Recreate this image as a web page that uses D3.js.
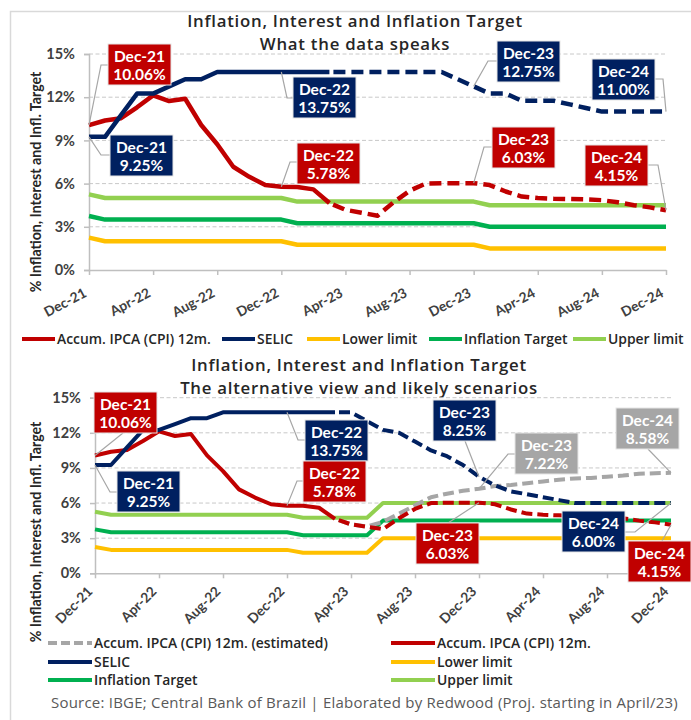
<!DOCTYPE html>
<html>
<head>
<meta charset="utf-8">
<script src="https://cdn.jsdelivr.net/npm/d3@7"></script>
<style>
  html, body { margin: 0; padding: 0; background: #ffffff; }
  svg { display: block; font-family: Lato, "Open Sans", sans-serif; }
</style>
</head>
<body>
<svg id="chart" width="691" height="720"></svg>
<script>
// ---- Data -----------------------------------------------------------------
const months = [
  "Dec-21",
  "Jan-22","Feb-22","Mar-22","Apr-22","May-22","Jun-22","Jul-22","Aug-22","Sep-22","Oct-22","Nov-22","Dec-22",
  "Jan-23","Feb-23","Mar-23","Apr-23","May-23","Jun-23","Jul-23","Aug-23","Sep-23","Oct-23","Nov-23","Dec-23",
  "Jan-24","Feb-24","Mar-24","Apr-24","May-24","Jun-24","Jul-24","Aug-24","Sep-24","Oct-24","Nov-24","Dec-24"
];
const tickLabels = ["Dec-21","Apr-22","Aug-22","Dec-22","Apr-23","Aug-23","Dec-23","Apr-24","Aug-24","Dec-24"];
const yTicks = [0, 3, 6, 9, 12, 15];

// Realised figures, Dec-21 to Mar-23
const ipcaActual  = [10.06, 10.38, 10.54, 11.30, 12.13, 11.73, 11.89, 10.07, 8.73, 7.17, 6.47, 5.90, 5.78, 5.77, 5.60, 4.65];
const selicActual = [9.25, 9.25, 10.75, 12.25, 12.25, 12.75, 13.25, 13.25, 13.75, 13.75, 13.75, 13.75, 13.75, 13.75, 13.75, 13.75];

// Projections, Mar-23 to Dec-24
const projStart = "Mar-23";
const ipcaProjected      = [4.65, 4.18, 3.98, 3.77, 4.70, 5.50, 6.00, 6.03, 6.03, 6.03, 5.90, 5.45, 5.10, 5.00, 4.95, 4.93, 4.90, 4.85, 4.70, 4.50, 4.35, 4.15];
const selicProjectedBase = [13.75, 13.75, 13.75, 13.75, 13.75, 13.75, 13.75, 13.75, 13.25, 12.75, 12.25, 12.25, 11.75, 11.75, 11.75, 11.50, 11.25, 11.00, 11.00, 11.00, 11.00, 11.00];
const selicProjectedAlt  = [13.75, 13.75, 13.00, 12.25, 12.00, 11.25, 10.50, 10.00, 9.25, 8.25, 7.50, 7.00, 6.75, 6.50, 6.25, 6.00, 6.00, 6.00, 6.00, 6.00, 6.00, 6.00];
const ipcaEstimatedAlt   = [4.65, 4.18, 4.00, 4.40, 5.10, 5.80, 6.50, 6.80, 7.05, 7.22, 7.45, 7.55, 7.70, 7.85, 8.00, 8.10, 8.15, 8.25, 8.35, 8.50, 8.55, 8.58];

// Inflation target band, Dec-21 to Dec-24 (current regime)
const lowerLimit = [2.25,
  2.00, 2.00, 2.00, 2.00, 2.00, 2.00, 2.00, 2.00, 2.00, 2.00, 2.00, 2.00,
  1.75, 1.75, 1.75, 1.75, 1.75, 1.75, 1.75, 1.75, 1.75, 1.75, 1.75, 1.75,
  1.50, 1.50, 1.50, 1.50, 1.50, 1.50, 1.50, 1.50, 1.50, 1.50, 1.50, 1.50];
const inflationTarget = [3.75,
  3.50, 3.50, 3.50, 3.50, 3.50, 3.50, 3.50, 3.50, 3.50, 3.50, 3.50, 3.50,
  3.25, 3.25, 3.25, 3.25, 3.25, 3.25, 3.25, 3.25, 3.25, 3.25, 3.25, 3.25,
  3.00, 3.00, 3.00, 3.00, 3.00, 3.00, 3.00, 3.00, 3.00, 3.00, 3.00, 3.00];
const upperLimit = [5.25,
  5.00, 5.00, 5.00, 5.00, 5.00, 5.00, 5.00, 5.00, 5.00, 5.00, 5.00, 5.00,
  4.75, 4.75, 4.75, 4.75, 4.75, 4.75, 4.75, 4.75, 4.75, 4.75, 4.75, 4.75,
  4.50, 4.50, 4.50, 4.50, 4.50, 4.50, 4.50, 4.50, 4.50, 4.50, 4.50, 4.50];

// Inflation target band, alternative scenario (target raised from Jun-23)
const lowerLimitAlt = [2.25,
  2.00, 2.00, 2.00, 2.00, 2.00, 2.00, 2.00, 2.00, 2.00, 2.00, 2.00, 2.00,
  1.75, 1.75, 1.75, 1.75, 1.75, 3.00, 3.00, 3.00, 3.00, 3.00, 3.00, 3.00,
  3.00, 3.00, 3.00, 3.00, 3.00, 3.00, 3.00, 3.00, 3.00, 3.00, 3.00, 3.00];
const inflationTargetAlt = [3.75,
  3.50, 3.50, 3.50, 3.50, 3.50, 3.50, 3.50, 3.50, 3.50, 3.50, 3.50, 3.50,
  3.25, 3.25, 3.25, 3.25, 3.25, 4.50, 4.50, 4.50, 4.50, 4.50, 4.50, 4.50,
  4.50, 4.50, 4.50, 4.50, 4.50, 4.50, 4.50, 4.50, 4.50, 4.50, 4.50, 4.50];
const upperLimitAlt = [5.25,
  5.00, 5.00, 5.00, 5.00, 5.00, 5.00, 5.00, 5.00, 5.00, 5.00, 5.00, 5.00,
  4.75, 4.75, 4.75, 4.75, 4.75, 6.00, 6.00, 6.00, 6.00, 6.00, 6.00, 6.00,
  6.00, 6.00, 6.00, 6.00, 6.00, 6.00, 6.00, 6.00, 6.00, 6.00, 6.00, 6.00];

// ---- Styling --------------------------------------------------------------
const C = {
  red: "#c00000", navy: "#002060", yellow: "#ffc000", green: "#00b050",
  lime: "#92d050", gray: "#a6a6a6", grid: "#c8c8c8", axis: "#bfbfbf",
  text: "#262626", tick: "#404040", leader: "#a6a6a6"
};
const wideFont = "'Open Sans', Lato, sans-serif";

const svg = d3.select("#chart");

// outer frame
svg.append("rect")
  .attr("x", 10.5).attr("y", 11.5).attr("width", 720).attr("height", 740)
  .attr("fill", "none").attr("stroke", "#d9d9d9").attr("stroke-width", 1.5);

function seriesAt(values, startLabel) {
  const s = months.indexOf(startLabel);
  return values.map((v, i) => ({ m: months[s + i], v }));
}

function drawPanel(p) {
  const g = svg.append("g");
  const x = d3.scalePoint().domain(months).range([p.left, p.right]);
  const y = d3.scaleLinear().domain([0, 15]).range([p.bottom, p.top]);

  // titles
  p.titles.forEach((t, i) => {
    g.append("text").attr("x", p.titleX).attr("y", p.titleY[i])
      .attr("text-anchor", "middle").attr("font-family", wideFont)
      .attr("font-size", 16.8).attr("font-weight", 600).attr("letter-spacing", 0.75)
      .attr("fill", C.text).text(t);
  });

  // gridlines
  g.append("g").selectAll("line").data(yTicks.filter(d => d > 0)).join("line")
    .attr("x1", p.left).attr("x2", p.right)
    .attr("y1", d => y(d)).attr("y2", d => y(d))
    .attr("stroke", C.grid).attr("stroke-width", 1).attr("stroke-dasharray", "4,2.5");

  // y axis
  const ya = g.append("g").attr("transform", `translate(${p.left},0)`)
    .call(d3.axisLeft(y).tickValues(yTicks).tickFormat(d => d + "%").tickSize(5).tickPadding(9));
  ya.select(".domain").attr("stroke", C.axis).attr("stroke-width", 1.5);
  ya.selectAll(".tick line").attr("stroke", C.axis).attr("stroke-width", 1.5);
  ya.selectAll("text").attr("font-family", "Lato, sans-serif").attr("font-size", 14.5)
    .attr("font-weight", 700).attr("fill", C.tick);

  // x axis
  const xa = g.append("g").attr("transform", `translate(0,${p.bottom})`)
    .call(d3.axisBottom(x).tickValues(tickLabels).tickSize(5).tickSizeOuter(0));
  xa.select(".domain").attr("stroke", C.axis).attr("stroke-width", 1.5);
  xa.selectAll(".tick line").attr("stroke", C.axis).attr("stroke-width", 1.5);
  xa.selectAll("text").attr("font-family", "Lato, sans-serif").attr("font-size", 13.8)
    .attr("font-weight", 700).attr("fill", C.tick)
    .attr("text-anchor", "end").attr("y", 0).attr("dy", null)
    .attr("transform", `translate(${p.xLab[0]},${p.xLab[1]}) rotate(${p.xLab[2]})`);

  // y axis title
  g.append("text")
    .attr("transform", `translate(${p.yTitle[0]},${p.yTitle[1]}) rotate(-90)`)
    .attr("text-anchor", "middle").attr("font-size", 14.2).attr("font-weight", 700)
    .attr("fill", C.text).text("% Inflation, Interest and Infl. Target");

  // lines
  const line = d3.line().x(d => x(d.m)).y(d => y(d.v));
  p.series.forEach(s => {
    g.append("path").datum(seriesAt(s.values, s.start))
      .attr("d", line).attr("fill", "none")
      .attr("stroke", s.color).attr("stroke-width", p.lineWidth)
      .attr("stroke-linejoin", "round")
      .attr("stroke-dasharray", s.dash ? p.dash : null)
      .attr("stroke-dashoffset", s.dash ? p.dashOffset : null);
  });

  // data labels with leader lines
  p.labels.forEach(a => {
    const val = a.values[months.indexOf(a.month) - months.indexOf(a.start)];
    const pt = [x(a.month), y(val)];
    g.append("polyline")
      .attr("points", [pt, ...a.leader].map(q => q.join(",")).join(" "))
      .attr("fill", "none").attr("stroke", C.leader).attr("stroke-width", 1.2);
    g.append("rect").attr("x", a.box[0]).attr("y", a.box[1])
      .attr("width", 63).attr("height", 41)
      .attr("fill", a.color).attr("stroke", "#e6e6e6").attr("stroke-width", 1);
    g.append("text").attr("x", a.box[0] + 31.5).attr("y", a.box[1] + 18)
      .attr("text-anchor", "middle").attr("font-size", 15.5).attr("font-weight", 700)
      .attr("fill", "#ffffff").text(a.month);
    g.append("text").attr("x", a.box[0] + 31.5).attr("y", a.box[1] + 35.5)
      .attr("text-anchor", "middle").attr("font-size", 15.5).attr("font-weight", 700)
      .attr("fill", "#ffffff").text(val.toFixed(2) + "%");
  });

  // legend
  p.legend.forEach(l => {
    g.append("line").attr("x1", l.x).attr("x2", l.x + l.len)
      .attr("y1", l.y).attr("y2", l.y)
      .attr("stroke", l.color).attr("stroke-width", 4)
      .attr("stroke-dasharray", l.dash || null);
    g.append("text").attr("x", l.x + l.len + 2).attr("y", l.y + 5)
      .attr("font-family", wideFont).attr("font-size", 13.9).attr("font-weight", 600)
      .attr("fill", C.text).text(l.label);
  });
}

// ---- Panel 1: what the data speaks ---------------------------------------
drawPanel({
  left: 89, right: 666, top: 54, bottom: 270,
  titles: ["Inflation, Interest and Inflation Target", "What the data speaks"],
  titleX: 355, titleY: [27, 50],
  xLab: [-2, 26, -28],
  yTitle: [41, 182],
  lineWidth: 4.5, dash: "12,6", dashOffset: 14,
  series: [
    { values: lowerLimit,      start: "Dec-21", color: C.yellow },
    { values: inflationTarget, start: "Dec-21", color: C.green },
    { values: upperLimit,      start: "Dec-21", color: C.lime },
    { values: ipcaActual,      start: "Dec-21", color: C.red },
    { values: ipcaProjected,   start: projStart, color: C.red, dash: true },
    { values: selicActual,     start: "Dec-21", color: C.navy },
    { values: selicProjectedBase, start: projStart, color: C.navy, dash: true }
  ],
  labels: [
    { month: "Dec-21", values: ipcaActual, start: "Dec-21", color: C.red,  box: [108, 44],  leader: [[101, 65], [108, 65]] },
    { month: "Dec-21", values: selicActual, start: "Dec-21", color: C.navy, box: [110, 135], leader: [[101, 155], [110, 155]] },
    { month: "Dec-22", values: selicActual, start: "Dec-21", color: C.navy, box: [293, 77],  leader: [[287, 98], [293, 98]] },
    { month: "Dec-22", values: ipcaActual, start: "Dec-21", color: C.red,  box: [297, 143], leader: [[290, 162], [297, 162]] },
    { month: "Dec-23", values: selicProjectedBase, start: projStart, color: C.navy, box: [497, 41], leader: [[488, 61], [497, 61]] },
    { month: "Dec-24", values: selicProjectedBase, start: projStart, color: C.navy, box: [592, 59], leader: [[663, 79], [655, 79]] },
    { month: "Dec-23", values: ipcaProjected, start: projStart, color: C.red, box: [492, 127], leader: [[484, 147], [492, 147]] },
    { month: "Dec-24", values: ipcaProjected, start: projStart, color: C.red, box: [585, 145], leader: [[658, 165], [648, 165]] }
  ],
  legend: [
    { label: "Accum. IPCA (CPI) 12m.", color: C.red,    x: 22,  y: 339, len: 33 },
    { label: "SELIC",                  color: C.navy,   x: 222, y: 339, len: 33 },
    { label: "Lower limit",            color: C.yellow, x: 307, y: 339, len: 33 },
    { label: "Inflation Target",       color: C.green,  x: 429, y: 339, len: 33 },
    { label: "Upper limit",            color: C.lime,   x: 573, y: 339, len: 33 }
  ]
});

// ---- Panel 2: alternative view -------------------------------------------
drawPanel({
  left: 95, right: 671, top: 397.7, bottom: 573.3,
  titles: ["Inflation, Interest and Inflation Target", "The alternative view and likely scenarios"],
  titleX: 359, titleY: [371, 394],
  xLab: [-2, 19, -45],
  yTitle: [41, 532],
  lineWidth: 4, dash: "11,5", dashOffset: 12,
  series: [
    { values: lowerLimitAlt,      start: "Dec-21", color: C.yellow },
    { values: inflationTargetAlt, start: "Dec-21", color: C.green },
    { values: upperLimitAlt,      start: "Dec-21", color: C.lime },
    { values: ipcaEstimatedAlt,   start: projStart, color: C.gray, dash: true },
    { values: ipcaActual,         start: "Dec-21", color: C.red },
    { values: ipcaProjected,      start: projStart, color: C.red, dash: true },
    { values: selicActual,        start: "Dec-21", color: C.navy },
    { values: selicProjectedAlt,  start: projStart, color: C.navy, dash: true }
  ],
  labels: [
    { month: "Dec-21", values: ipcaActual, start: "Dec-21", color: C.red,  box: [94, 392],  leader: [[123, 433]] },
    { month: "Dec-21", values: selicActual, start: "Dec-21", color: C.navy, box: [117, 471], leader: [[110, 492], [117, 492]] },
    { month: "Dec-22", values: selicActual, start: "Dec-21", color: C.navy, box: [305, 420], leader: [[298, 440], [305, 440]] },
    { month: "Dec-22", values: ipcaActual, start: "Dec-21", color: C.red,  box: [303, 461], leader: [[297, 481], [303, 481]] },
    { month: "Dec-23", values: selicProjectedAlt, start: projStart, color: C.navy, box: [433, 400], leader: [[465, 441]] },
    { month: "Dec-23", values: ipcaEstimatedAlt, start: projStart, color: C.gray, box: [515, 433], leader: [[508, 454], [515, 454]] },
    { month: "Dec-23", values: ipcaProjected, start: projStart, color: C.red, box: [416, 523], leader: [[448, 523]] },
    { month: "Dec-24", values: ipcaEstimatedAlt, start: projStart, color: C.gray, box: [616, 408], leader: [[648, 449]] },
    { month: "Dec-24", values: selicProjectedAlt, start: projStart, color: C.navy, box: [562, 511], leader: [[635, 532], [625, 532]] },
    { month: "Dec-24", values: ipcaProjected, start: projStart, color: C.red, box: [628, 541], leader: [[662, 541]] }
  ],
  legend: [
    { label: "Accum. IPCA (CPI) 12m. (estimated)", color: C.gray, x: 48, y: 643, len: 44, dash: "9,4" },
    { label: "Accum. IPCA (CPI) 12m.", color: C.red,    x: 391, y: 643, len: 44 },
    { label: "SELIC",                  color: C.navy,   x: 48,  y: 662, len: 44 },
    { label: "Lower limit",            color: C.yellow, x: 391, y: 662, len: 44 },
    { label: "Inflation Target",       color: C.green,  x: 48,  y: 680, len: 44 },
    { label: "Upper limit",            color: C.lime,   x: 391, y: 680, len: 44 }
  ]
});

// source note
svg.append("text").attr("x", 51).attr("y", 708)
  .attr("font-family", wideFont).attr("font-size", 15).attr("letter-spacing", 0.22)
  .attr("fill", "#595959")
  .text("Source: IBGE; Central Bank of Brazil | Elaborated by Redwood (Proj. starting in April/23)");
</script>
</body>
</html>
